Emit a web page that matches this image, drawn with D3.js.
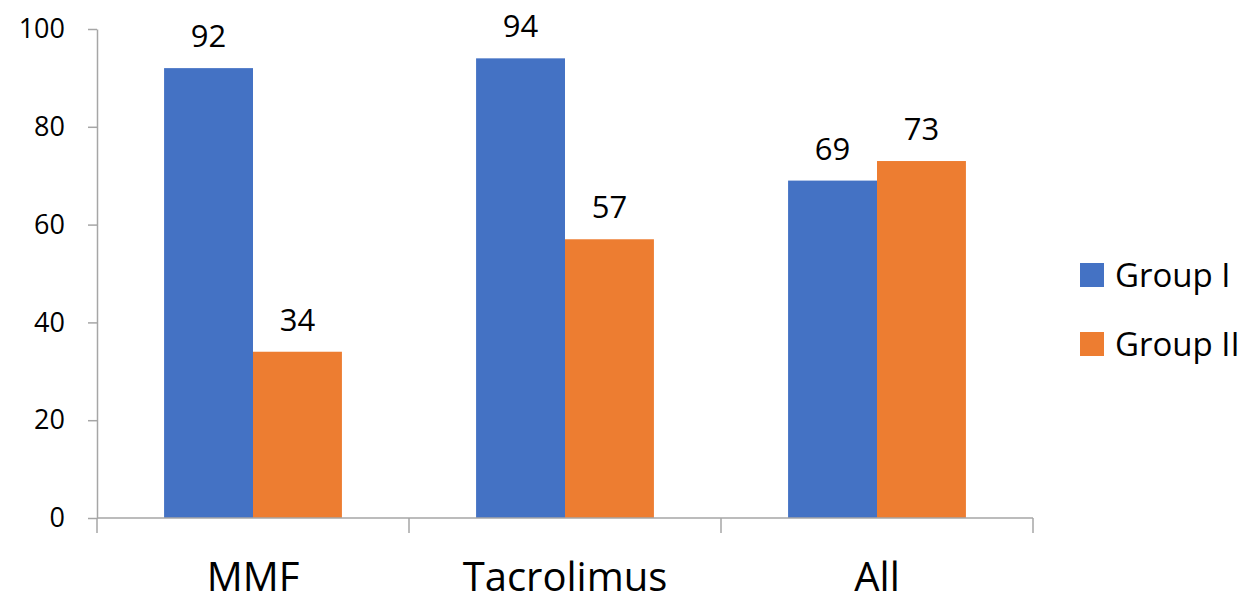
<!DOCTYPE html>
<html>
<head>
<meta charset="utf-8">
<script src="https://cdn.jsdelivr.net/npm/d3@7"></script>
<style>
  html, body { margin: 0; padding: 0; background: #fff; }
  svg { display: block; font-family: "Open Sans", "Noto Sans", sans-serif; }
</style>
</head>
<body>
<svg id="chart" width="1258" height="597"></svg>
<script>
// Chart data
const categories = ["MMF", "Tacrolimus", "All"];
const seriesNames = ["Group I", "Group II"];
const groupI = [92, 94, 69];
const groupII = [34, 57, 73];
const yTicks = [0, 20, 40, 60, 80, 100];

const colors = ["#4472C4", "#ED7D31"];
const axisColor = "#A6A6A6";

const svg = d3.select("#chart");

const plot = { left: 97, right: 1033, top: 29, bottom: 518 };

const x = d3.scaleBand()
  .domain(categories)
  .range([plot.left, plot.right])
  .paddingInner(0)
  .paddingOuter(0);

const bw = x.bandwidth();
const xSub = d3.scaleBand()
  .domain(seriesNames)
  .range([bw * 0.215, bw * 0.785])
  .padding(0);

const y = d3.scaleLinear()
  .domain([0, 100])
  .range([plot.bottom, plot.top]);

const rows = categories.map((c, i) => ({
  category: c,
  values: [
    { series: seriesNames[0], value: groupI[i] },
    { series: seriesNames[1], value: groupII[i] }
  ]
}));

// Bars
const groups = svg.append("g").selectAll("g")
  .data(rows)
  .join("g")
  .attr("transform", d => `translate(${x(d.category)},0)`);

groups.selectAll("rect")
  .data(d => d.values)
  .join("rect")
  .attr("x", d => xSub(d.series))
  .attr("y", d => y(d.value))
  .attr("width", xSub.bandwidth())
  .attr("height", d => y(0) - y(d.value))
  .attr("fill", (d, i) => colors[i]);

// Value labels
groups.selectAll("text")
  .data(d => d.values)
  .join("text")
  .attr("x", d => xSub(d.series) + xSub.bandwidth() / 2)
  .attr("y", d => y(d.value) - 21)
  .attr("text-anchor", "middle")
  .attr("font-size", 31)
  .attr("fill", "#000")
  .text(d => d.value);

// Y axis
const yAxis = d3.axisLeft(y)
  .tickValues(yTicks)
  .tickSize(9)
  .tickPadding(23)
  .tickSizeOuter(0);

const yg = svg.append("g")
  .attr("transform", `translate(${plot.left},0)`)
  .call(yAxis);
yg.select(".domain").attr("stroke", axisColor).attr("stroke-width", 1.5);
yg.selectAll(".tick line").attr("stroke", axisColor).attr("stroke-width", 1.5);
yg.selectAll(".tick text")
  .attr("font-size", 27)
  .attr("font-family", "Open Sans, sans-serif")
  .attr("fill", "#000");

// X axis: boundary ticks between categories
const xg = svg.append("g")
  .attr("transform", `translate(0,${plot.bottom})`);
xg.append("line")
  .attr("x1", plot.left)
  .attr("x2", plot.right)
  .attr("stroke", axisColor)
  .attr("stroke-width", 1.5);
const bounds = categories.map(c => x(c)).concat([x(categories[categories.length - 1]) + bw]);
xg.selectAll("line.bound")
  .data(bounds)
  .join("line")
  .attr("class", "bound")
  .attr("x1", d => d)
  .attr("x2", d => d)
  .attr("y1", 0)
  .attr("y2", 15)
  .attr("stroke", axisColor)
  .attr("stroke-width", 1.5);
xg.selectAll("text")
  .data(categories)
  .join("text")
  .attr("x", d => x(d) + bw / 2)
  .attr("y", 73)
  .attr("text-anchor", "middle")
  .attr("font-size", 40)
  .attr("fill", "#000")
  .text(d => d);

// Legend
const legend = svg.append("g")
  .attr("transform", "translate(1080,263)");
const items = legend.selectAll("g")
  .data(seriesNames)
  .join("g")
  .attr("transform", (d, i) => `translate(0,${i * 69})`);
items.append("rect")
  .attr("width", 24)
  .attr("height", 24)
  .attr("fill", (d, i) => colors[i]);
items.append("text")
  .attr("x", 35)
  .attr("y", 24)
  .attr("font-size", 33)
  .attr("fill", "#000")
  .text(d => d);
</script>
</body>
</html>
